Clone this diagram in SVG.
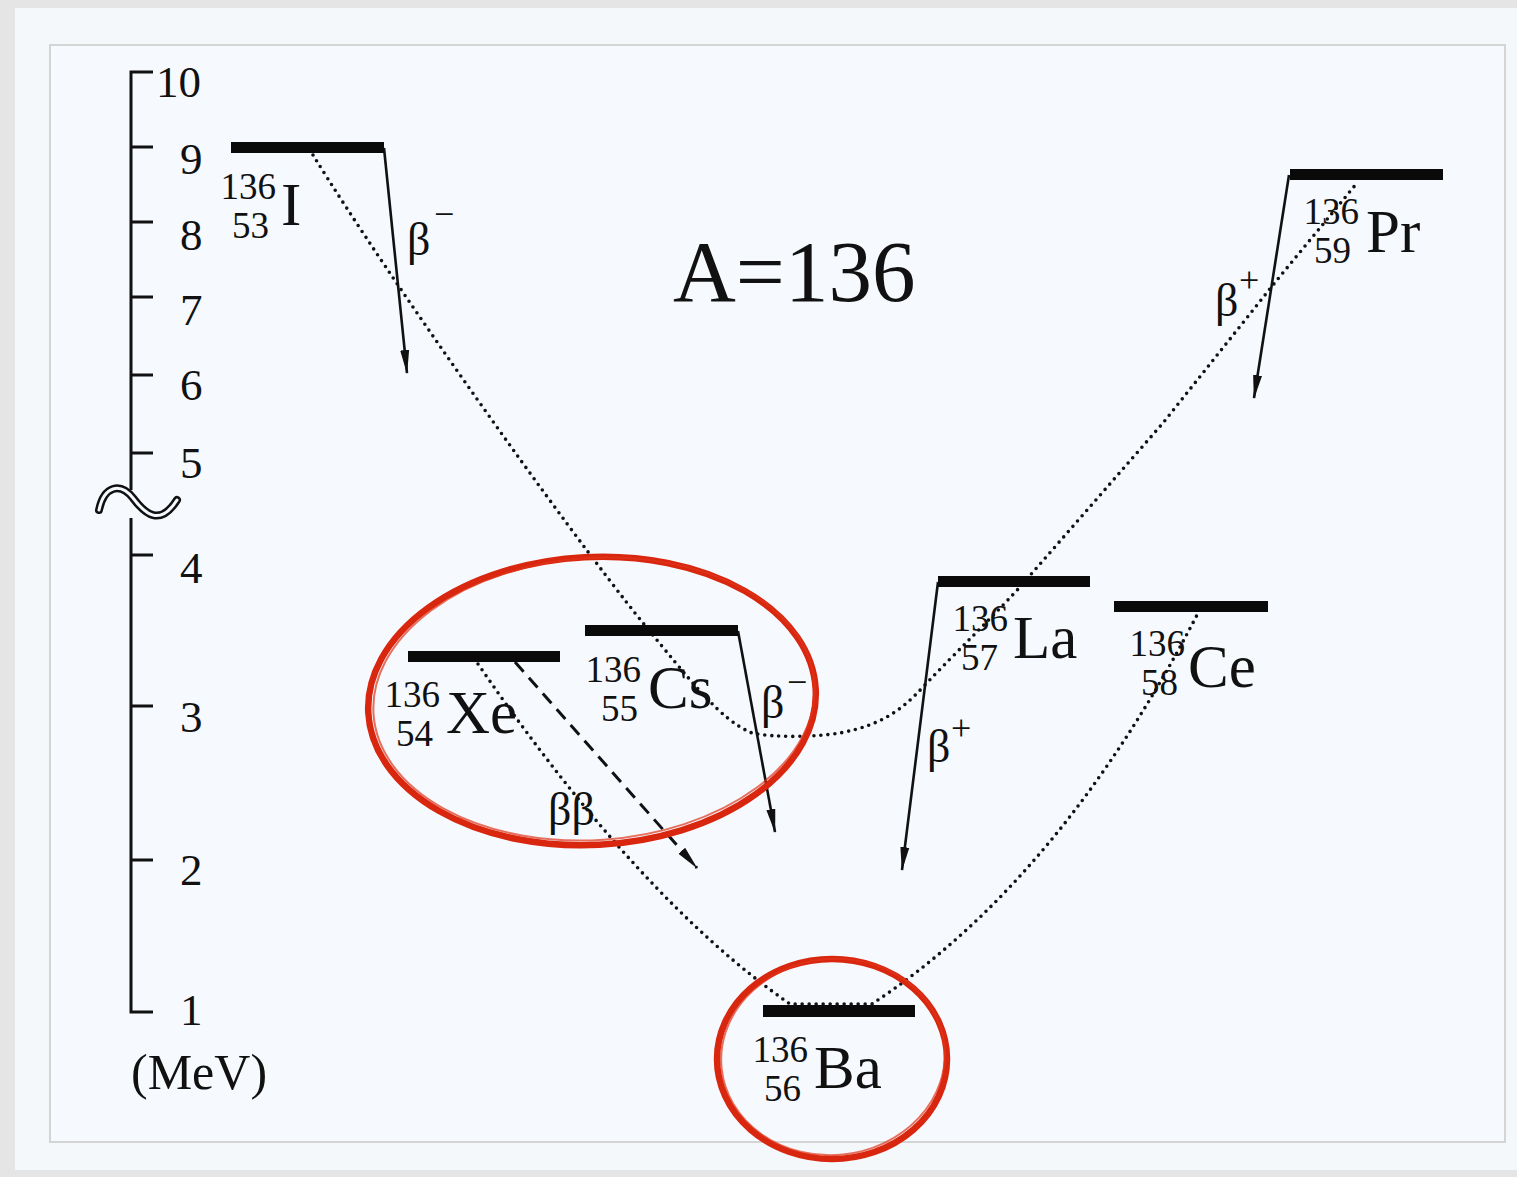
<svg xmlns="http://www.w3.org/2000/svg" width="1517" height="1177" viewBox="0 0 1517 1177">
<defs>
<style>
text{font-family:"Liberation Serif","Times New Roman",serif;fill:#111}
.tick{font-size:45px}
.num{font-size:37px}
.el{font-size:61px}
.beta{font-size:46px}
.sign{font-size:36px}
.bar{fill:#0a0a0a}
.axis{stroke:#111;stroke-width:3;fill:none}
.dot{fill:none;stroke:#111;stroke-width:3.6;stroke-linecap:round;stroke-dasharray:0 7}
.arr{fill:none;stroke:#111;stroke-width:2.6;marker-end:url(#ah)}
.dash{fill:none;stroke:#111;stroke-width:3;stroke-dasharray:13 8;marker-end:url(#ah)}
.red{fill:none;stroke:#d9260f;stroke-width:6.5}
.red2{fill:none;stroke:#e0341a;stroke-width:2;opacity:0.7}
</style>
<marker id="ah" markerUnits="userSpaceOnUse" viewBox="0 0 24 10" markerWidth="24" markerHeight="10" refX="23" refY="5" orient="auto">
<path d="M0,0.5 L24,5 L0,9.5 z" fill="#111"/>
</marker>
</defs>

<!-- background -->
<rect x="0" y="0" width="1517" height="1177" fill="#e5e5e5"/>
<rect x="15" y="8" width="1502" height="1162" fill="#f4f8fb"/>
<rect x="50" y="45" width="1455" height="1097" fill="#f6f9fd" stroke="#d4d4d4" stroke-width="2"/>

<!-- axis -->
<g id="axis">
<path class="axis" d="M153,72 H131 V490 M131,518 V1012 H153"/>
<path class="axis" d="M131,147 H153 M131,222 H153 M131,297 H153 M131,375 H153 M131,453 H153 M131,555 H153 M131,706 H153 M131,860 H153"/>
<path d="M99,510 C104,486 120,482 133,498 C145,514 160,527 177,500" fill="none" stroke="#111" stroke-width="8" stroke-linecap="round"/>
<path d="M99,510 C104,486 120,482 133,498 C145,514 160,527 177,500" fill="none" stroke="#f6f9fd" stroke-width="3" stroke-linecap="round"/>
<text class="tick" x="156" y="97">10</text>
<text class="tick" x="180" y="174">9</text>
<text class="tick" x="180" y="250">8</text>
<text class="tick" x="180" y="325">7</text>
<text class="tick" x="180" y="400">6</text>
<text class="tick" x="180" y="478">5</text>
<text class="tick" x="180" y="583">4</text>
<text class="tick" x="180" y="732">3</text>
<text class="tick" x="180" y="885">2</text>
<text class="tick" x="180" y="1025">1</text>
<text x="131" y="1089" style="font-size:50px">(MeV)</text>
</g>

<text x="673" y="301" style="font-size:87px">A=136</text>

<!-- connectors -->
<g id="connectors">
<path class="dot" d="M313,155 C390,280 560,520 643,623 C690,680 720,720 752,733 C775,738 815,737 840,733 C880,725 900,712 923,687 C960,648 985,625 1020,587 L1163,423 L1277,280 L1357,183"/>
<path class="dot" d="M478,664 Q640,900 790,1004 L872,1004 Q1060,880 1197,615"/>
<path class="arr" d="M384,148 L407,373"/>
<path class="arr" d="M738,631 L775,832"/>
<path class="arr" d="M938,582 L902,870"/>
<path class="arr" d="M1289,175 L1254,398"/>
<path class="dash" d="M515,662 L697,868"/>
<text class="beta" x="407" y="255">β</text><text class="sign" x="434" y="226">−</text>
<text class="beta" x="761" y="718">β</text><text class="sign" x="787" y="694">−</text>
<text class="beta" x="927" y="762">β</text><text class="sign" x="951" y="740">+</text>
<text class="beta" x="1215" y="316">β</text><text class="sign" x="1239" y="292">+</text>
<text class="beta" x="548" y="825">ββ</text>
</g>

<!-- nodes -->
<g id="I136">
<rect class="bar" x="231" y="142" width="153" height="11"/>
<text class="num" x="276" y="199" text-anchor="end">136</text>
<text class="num" x="269" y="238" text-anchor="end">53</text>
<text class="el" x="281" y="225">I</text>
</g>
<g id="Xe136">
<rect class="bar" x="408" y="651" width="152" height="11"/>
<text class="num" x="440" y="707" text-anchor="end">136</text>
<text class="num" x="433" y="746" text-anchor="end">54</text>
<text class="el" x="446" y="733">Xe</text>
</g>
<g id="Cs136">
<rect class="bar" x="585" y="625" width="153" height="11"/>
<text class="num" x="641" y="682" text-anchor="end">136</text>
<text class="num" x="638" y="721" text-anchor="end">55</text>
<text class="el" x="648" y="708">Cs</text>
</g>
<g id="Ba136">
<rect class="bar" x="763" y="1005" width="152" height="12"/>
<text class="num" x="808" y="1062" text-anchor="end">136</text>
<text class="num" x="801" y="1101" text-anchor="end">56</text>
<text class="el" x="814" y="1088">Ba</text>
</g>
<g id="La136">
<rect class="bar" x="938" y="576" width="152" height="11"/>
<text class="num" x="1008" y="631" text-anchor="end">136</text>
<text class="num" x="998" y="670" text-anchor="end">57</text>
<text class="el" x="1013" y="658">La</text>
</g>
<g id="Ce136">
<rect class="bar" x="1114" y="601" width="154" height="11"/>
<text class="num" x="1185" y="656" text-anchor="end">136</text>
<text class="num" x="1178" y="695" text-anchor="end">58</text>
<text class="el" x="1188" y="687">Ce</text>
</g>
<g id="Pr136">
<rect class="bar" x="1290" y="169" width="153" height="11"/>
<text class="num" x="1359" y="224" text-anchor="end">136</text>
<text class="num" x="1351" y="263" text-anchor="end">59</text>
<text class="el" x="1366" y="252">Pr</text>
</g>

<!-- red highlight ellipses -->
<g id="highlights">
<ellipse class="red" cx="592" cy="701" rx="224" ry="144" transform="rotate(-3 592 701)"/>
<ellipse class="red2" cx="594" cy="699" rx="221" ry="141" transform="rotate(-4 594 699)"/>
<ellipse class="red" cx="832" cy="1059" rx="115" ry="100"/>
<ellipse class="red2" cx="833" cy="1057" rx="112" ry="98" transform="rotate(-6 833 1057)"/>
</g>
</svg>
